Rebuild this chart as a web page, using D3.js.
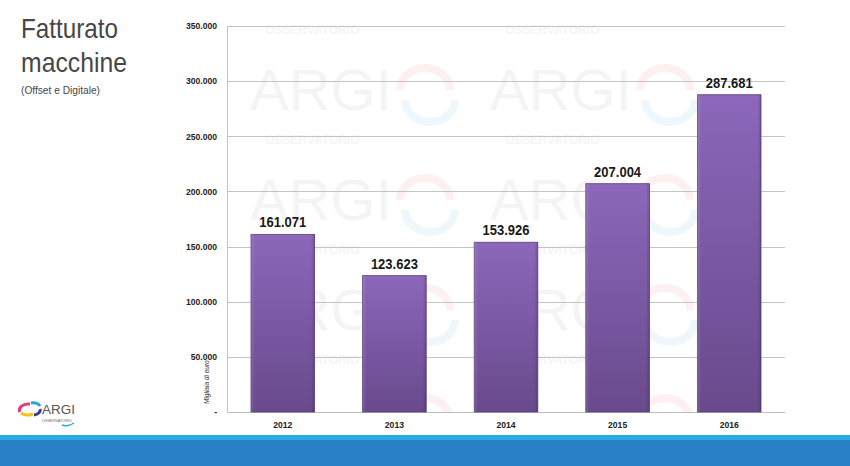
<!DOCTYPE html>
<html><head><meta charset="utf-8">
<script src="https://cdn.jsdelivr.net/npm/d3@7"></script>
<style>body{margin:0;background:#fff;}svg{display:block;font-family:Arial,"Liberation Sans",sans-serif;}</style>
</head><body>
<svg id="c" width="850" height="466"></svg>
<script>
const categories = ["2012","2013","2014","2015","2016"];
const values = [161071, 123623, 153926, 207004, 287681];
const yTicks = [0,50000,100000,150000,200000,250000,300000,350000];

const svg = d3.select("#c");
const m = {left:227, right:785, top:26, bottom:412};
const x = d3.scaleBand().domain(categories).range([m.left,m.right]).paddingInner(0.43).paddingOuter(0.215);
const y = d3.scaleLinear().domain([0,350000]).range([m.bottom,m.top]);
const fmt = v => v===0 ? "-" : d3.format(",")(v).replace(/,/g,".");

const defs = svg.append("defs");
const g1 = defs.append("linearGradient").attr("id","bar").attr("x1",0).attr("y1",0).attr("x2",0).attr("y2",1);
g1.append("stop").attr("offset","0%").attr("stop-color","#8c67bb");
g1.append("stop").attr("offset","100%").attr("stop-color","#684a8c");
const g2 = defs.append("linearGradient").attr("id","edge").attr("x1",0).attr("y1",0).attr("x2",1).attr("y2",0);
g2.append("stop").attr("offset","0%").attr("stop-color","#fff").attr("stop-opacity",0.12);
g2.append("stop").attr("offset","6%").attr("stop-color","#fff").attr("stop-opacity",0);
g2.append("stop").attr("offset","94%").attr("stop-color","#000").attr("stop-opacity",0);
g2.append("stop").attr("offset","100%").attr("stop-color","#000").attr("stop-opacity",0.15);
defs.append("clipPath").attr("id","pc").append("rect").attr("x",m.left).attr("y",m.top-4).attr("width",m.right-m.left).attr("height",m.bottom-m.top+4);

// watermark
const wm = svg.append("g").attr("clip-path","url(#pc)");
for (let r=0;r<4;r++){
  for (let c=0;c<2;c++){
    const bx = 250 + c*240, by = 110 + r*110;
    if (r<3) wm.append("text").attr("x",bx).attr("y",by).attr("font-size",58).attr("fill","#f4f4f4").text("ARGI");
    wm.append("text").attr("x",bx+15).attr("y",by-76).attr("font-size",12).attr("font-weight","bold").attr("fill","#f5f5f5").text("OSSERVATORIO");
    wm.append("path").attr("d",`M${bx+150},${by-20} a25,22 0 1,1 50,0`).attr("fill","none").attr("stroke","#fcf0f1").attr("stroke-width",8);
    wm.append("path").attr("d",`M${bx+155},${by-10} a25,22 0 0,0 50,0`).attr("fill","none").attr("stroke","#eef7fc").attr("stroke-width",8);
  }
}

// grid
svg.append("g").selectAll("line").data(yTicks.filter(d=>d>0)).join("line")
  .attr("x1",m.left).attr("x2",m.right).attr("y1",d=>Math.round(y(d))+0.5).attr("y2",d=>Math.round(y(d))+0.5)
  .attr("stroke","#c4c4c4").attr("stroke-width",1);

// y axis
const ya = svg.append("g").attr("transform",`translate(${m.left},0)`)
  .call(d3.axisLeft(y).tickValues(yTicks).tickFormat(fmt).tickSize(0).tickPadding(10));
ya.select(".domain").attr("stroke","#c4c4c4");
ya.selectAll("text").attr("font-size",8.6).attr("font-weight","bold").attr("fill","#222").attr("font-family","Arial,'Liberation Sans',sans-serif");

// x axis
const xa = svg.append("g").attr("transform",`translate(0,${m.bottom})`)
  .call(d3.axisBottom(x).tickSize(0).tickPadding(10));
xa.select(".domain").attr("stroke","#bdbdbd").attr("d",`M${m.left},0.5H${m.right}`);
xa.selectAll("text").attr("font-size",8.6).attr("font-weight","bold").attr("fill","#222").attr("font-family","Arial,'Liberation Sans',sans-serif");

// bars
const bars = svg.append("g");
bars.selectAll("rect.b").data(values).join("rect").attr("class","b")
  .attr("x",(d,i)=>x(categories[i])).attr("width",x.bandwidth())
  .attr("y",d=>y(d)).attr("height",d=>y(0)-y(d))
  .attr("fill","url(#bar)").attr("stroke","#5b3f7c").attr("stroke-width",0.8);
bars.selectAll("rect.e").data(values).join("rect").attr("class","e")
  .attr("x",(d,i)=>x(categories[i])).attr("width",x.bandwidth())
  .attr("y",d=>y(d)).attr("height",d=>y(0)-y(d))
  .attr("fill","url(#edge)");

// value labels
svg.append("g").selectAll("text").data(values).join("text")
  .attr("x",(d,i)=>x(categories[i])+x.bandwidth()/2).attr("y",d=>y(d)-7)
  .attr("text-anchor","middle").attr("font-size",14).attr("font-weight","bold").attr("fill","#1a1a1a")
  .attr("textLength",47).attr("lengthAdjust","spacingAndGlyphs")
  .text(d=>fmt(d));

// unit label
svg.append("text").attr("transform","translate(209,404) rotate(-90)")
  .attr("font-size",6.5).attr("font-style","italic").attr("fill","#333").text("Migliaia di euro");

// title
svg.append("text").attr("x",21).attr("y",38).attr("font-size",28).attr("fill","#474747")
  .attr("textLength",97).attr("lengthAdjust","spacingAndGlyphs").text("Fatturato");
svg.append("text").attr("x",21).attr("y",72).attr("font-size",28).attr("fill","#474747")
  .attr("textLength",106).attr("lengthAdjust","spacingAndGlyphs").text("macchine");
svg.append("text").attr("x",21).attr("y",94).attr("font-size",11.5).attr("fill","#474747")
  .attr("textLength",79).attr("lengthAdjust","spacingAndGlyphs").text("(Offset e Digitale)");

// logo
const lg = svg.append("g");
lg.append("path").attr("d","M30,404 a9,6 0 0,0 -10,8").attr("fill","none").attr("stroke","#e6397a").attr("stroke-width",3);
lg.append("path").attr("d","M21,413 a9,5 0 0,0 12,1").attr("fill","none").attr("stroke","#f4c21a").attr("stroke-width",3);
lg.append("path").attr("d","M31,403 a8,5 0 0,1 9,3").attr("fill","none").attr("stroke","#2aa6dc").attr("stroke-width",3);
lg.append("path").attr("d","M34,415 a8,5 0 0,0 6,-6").attr("fill","none").attr("stroke","#3b3f8f").attr("stroke-width",3);
lg.append("text").attr("x",42).attr("y",414).attr("font-size",12.5).attr("fill","#555")
  .attr("textLength",33).attr("lengthAdjust","spacingAndGlyphs").text("ARGI");
lg.append("text").attr("x",42).attr("y",422).attr("font-size",3.5).attr("fill","#666")
  .attr("textLength",30).attr("lengthAdjust","spacingAndGlyphs").text("OSSERVATORIO");
lg.append("path").attr("d","M62,425 q6,2 12,-2").attr("fill","none").attr("stroke","#2aa6dc").attr("stroke-width",1.5);

// bottom band
svg.append("rect").attr("x",0).attr("y",435).attr("width",850).attr("height",6).attr("fill","#29abe2");
svg.append("rect").attr("x",0).attr("y",440).attr("width",850).attr("height",26).attr("fill","#2a80c5");
</script>
</body></html>
